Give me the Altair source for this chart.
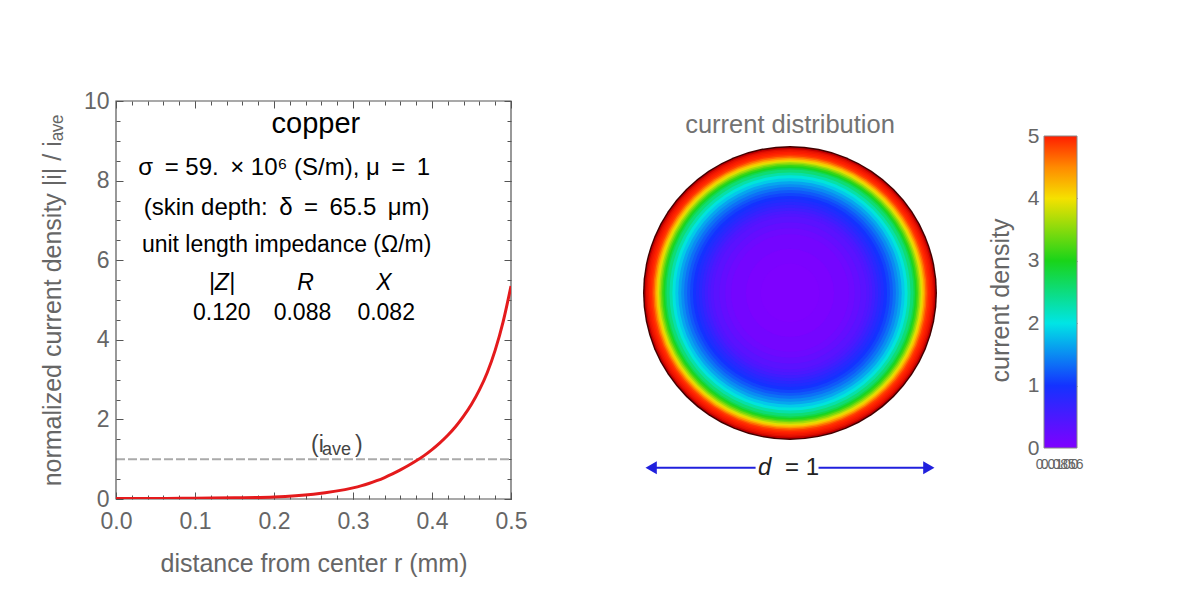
import altair as alt
import pandas as pd

FONT = "Liberation Sans"
GRAY = "#666666"
FRAME = "#555555"
RED = "#e41a1c"
BLUE = "#2020dd"
TS = "\u2009"

# ---------------- data ----------------
r_mm = [0.00, 0.05, 0.10, 0.15, 0.20, 0.25, 0.30, 0.31, 0.32, 0.33, 0.34, 0.35,
        0.36, 0.37, 0.38, 0.39, 0.40, 0.41, 0.42, 0.43, 0.44, 0.45, 0.46, 0.47,
        0.48, 0.49, 0.50]
density = [0.01, 0.01, 0.02, 0.03, 0.05, 0.12, 0.28, 0.33, 0.39, 0.46, 0.54, 0.63,
           0.73, 0.84, 0.96, 1.09, 1.24, 1.41, 1.60, 1.82, 2.08, 2.38, 2.74, 3.18,
           3.74, 4.45, 5.35]
avg_level = [1.0]

x_major = [0.0, 0.1, 0.2, 0.3, 0.4, 0.5]
x_minor = [0.0, 0.02, 0.04, 0.06, 0.08, 0.10, 0.12, 0.14, 0.16, 0.18, 0.20, 0.22,
           0.24, 0.26, 0.28, 0.30, 0.32, 0.34, 0.36, 0.38, 0.40, 0.42, 0.44, 0.46,
           0.48, 0.50]
y_major = [0, 2, 4, 6, 8, 10]
y_minor = [0, 0.5, 1, 1.5, 2, 2.5, 3, 3.5, 4, 4.5, 5, 5.5, 6, 6.5, 7, 7.5, 8, 8.5,
           9, 9.5, 10]

material = ["copper"]
info_lines = ["σ " + TS + "= 59. " + TS + "× 10⁶ (S/m), μ " + TS + "=" + TS + " 1",
              "(skin depth: " + TS + "δ " + TS + "=" + TS + " 65.5 " + TS + "μm)",
              "unit length impedance (Ω/m)"]
table_heads = ["|Z|", "R", "X"]
table_vals = ["0.120", "0.088", "0.082"]

# current distribution disk: radius (units of d) -> current density
ring_r = [0.500, 0.495, 0.490, 0.485, 0.480, 0.475, 0.470, 0.465, 0.460, 0.455,
          0.450, 0.445, 0.440, 0.435, 0.430, 0.425, 0.420, 0.410, 0.400, 0.390,
          0.380, 0.370, 0.360, 0.350, 0.340, 0.330, 0.320, 0.310, 0.300, 0.290,
          0.280, 0.270, 0.260, 0.240, 0.220, 0.200, 0.150, 0.100]
ring_j = [5.85, 5.40, 5.20, 5.10, 5.02, 4.95, 4.85, 4.65, 4.40, 4.15,
          3.90, 3.65, 3.40, 3.15, 2.95, 2.75, 2.55, 2.30, 2.05, 1.85,
          1.65, 1.50, 1.35, 1.22, 1.10, 1.00, 0.90, 0.80, 0.70, 0.60,
          0.50, 0.42, 0.35, 0.25, 0.17, 0.10, 0.04, 0.01]

cbar_ticks = [0, 1, 2, 3, 4, 5]
cmap_vals = [0, 1, 2, 3, 4, 4.5, 5, 5.4, 5.8, 6.0]
cmap_cols = ["#7f00ff", "#1432ff", "#00e5e5", "#19d419", "#f5e100", "#ff8a00",
             "#ff1e00", "#c00000", "#500000", "#1a0000"]

# ---------------- left panel ----------------
XS = alt.Scale(domain=[0, 0.5], nice=False, zero=False)
YS = alt.Scale(domain=[0, 10], nice=False, zero=False)


def ax(orient, values, size, main=False, title=None, lp=7, tp=14):
    kw = dict(orient=orient, values=values, tickSize=size, offset=-size, domain=False,
              grid=False, tickColor=FRAME, tickWidth=1, labels=main, title=title)
    if main:
        kw.update(labelFont=FONT, labelFontSize=23, labelColor=GRAY, labelPadding=lp,
                  labelFlush=False, titleFont=FONT, titleFontSize=25, titleColor=GRAY,
                  titleFontWeight="normal", titlePadding=tp)
    return alt.Axis(**kw)


curve_df = pd.DataFrame({"r": r_mm, "j": density})
base = alt.Chart(curve_df)

line = base.mark_line(color=RED, strokeWidth=3, clip=True, interpolate="monotone").encode(
    x=alt.X("r:Q", scale=XS,
            axis=ax("bottom", x_major, 7, True, "distance from center r (mm)", 11, 18)),
    y=alt.Y("j:Q", scale=YS,
            axis=ax("left", y_major, 7, True, "normalized current density |i| / iₐᵥₑ", 7, 18)),
)
t2 = base.mark_point(opacity=0).encode(
    x=alt.X("r:Q", scale=XS, axis=ax("bottom", x_minor, 4)),
    y=alt.Y("j:Q", scale=YS, axis=ax("left", y_minor, 4)),
)
t3 = base.mark_point(opacity=0).encode(
    x=alt.X("r:Q", scale=XS, axis=ax("top", x_major, 7)),
    y=alt.Y("j:Q", scale=YS, axis=ax("right", y_major, 7)),
)
t4 = base.mark_point(opacity=0).encode(
    x=alt.X("r:Q", scale=XS, axis=ax("top", x_minor, 4)),
    y=alt.Y("j:Q", scale=YS, axis=ax("right", y_minor, 4)),
)
frame = alt.Chart(pd.DataFrame({"a": [0.0], "b": [0.5], "c": [0.0], "d": [10.0]})).mark_rect(
    fillOpacity=0, stroke=FRAME, strokeWidth=1.2
).encode(
    x=alt.X("a:Q", scale=XS, axis=None), x2="b:Q",
    y=alt.Y("c:Q", scale=YS, axis=None), y2="d:Q",
)

avg = alt.Chart(pd.DataFrame({"x0": [0.0], "x1": [0.5], "lvl": avg_level})).mark_rule(
    color="#aaaaaa", strokeWidth=2, strokeDash=[9, 3]
).encode(
    x=alt.X("x0:Q", scale=XS, axis=None), x2="x1:Q",
    y=alt.Y("lvl:Q", scale=YS, axis=None),
)


def txt(df, size, color="black", style="normal", align="center", baseline="middle",
        xs=XS, ys=YS):
    return alt.Chart(df).mark_text(
        font=FONT, fontSize=size, color=color, fontStyle=style, align=align,
        baseline=baseline
    ).encode(
        x=alt.X("x:Q", scale=xs, axis=None),
        y=alt.Y("y:Q", scale=ys, axis=None),
        text="t:N",
    )


copper_t = txt(pd.DataFrame({"t": material, "x": [0.253], "y": [9.42]}), 29)
info_t = txt(pd.DataFrame({"t": info_lines[:2], "x": [0.213, 0.216],
                           "y": [8.32, 7.31]}), 24)
info_t2 = txt(pd.DataFrame({"t": info_lines[2:], "x": [0.216], "y": [6.38]}), 23)
head_t = txt(pd.DataFrame({"t": table_heads, "x": [0.134, 0.240, 0.339],
                           "y": [5.43, 5.43, 5.43]}), 23, style="italic")
val_t = txt(pd.DataFrame({"t": table_vals, "x": [0.134, 0.236, 0.342],
                          "y": [4.67, 4.67, 4.67]}), 23)
iave_a = txt(pd.DataFrame({"t": ["(i"], "x": [0.2468], "y": [1.18]}), 23, color="#444444",
             align="left", baseline="alphabetic")
iave_b = txt(pd.DataFrame({"t": ["ave"], "x": [0.2608], "y": [1.10]}), 18, color="#444444",
             align="left", baseline="alphabetic")
iave_c = txt(pd.DataFrame({"t": [")"], "x": [0.3025], "y": [1.18]}), 23, color="#444444",
             align="left", baseline="alphabetic")

left = alt.layer(
    avg, frame, t2, t3, t4, copper_t, info_t, info_t2, head_t, val_t,
    iave_a, iave_b, iave_c, line
).resolve_axis(x="independent", y="independent").properties(width=395, height=398)

# ---------------- circle panel ----------------
CX = alt.Scale(domain=[-0.51, 0.51], nice=False, zero=False)
CY = alt.Scale(domain=[-0.701, 0.653], nice=False, zero=False)
CR = alt.Scale(type="linear", domain=[0, 0.5], range=[0, 147], zero=True)
CC = alt.Scale(domain=cmap_vals, range=cmap_cols, interpolate="rgb")

ring_df = pd.DataFrame({"r": ring_r, "j": ring_j})
disks = alt.Chart(ring_df).mark_arc(theta=0, theta2=6.2832).encode(
    x=alt.XDatum(0, scale=CX, axis=None),
    y=alt.YDatum(0, scale=CY, axis=None),
    radius=alt.Radius("r:Q", scale=CR, stack=False),
    color=alt.Color("j:Q", scale=CC, legend=None),
)
ctitle = txt(pd.DataFrame({"t": ["current distribution"], "x": [0.0], "y": [0.571]}), 25.5,
             color="#727272", xs=CX, ys=CY)
seg = alt.Chart(pd.DataFrame({"a": [-0.47, 0.097], "b": [-0.117, 0.47],
                              "y": [-0.595, -0.595]})).mark_rule(
    color=BLUE, strokeWidth=2
).encode(
    x=alt.X("a:Q", scale=CX, axis=None), x2="b:Q",
    y=alt.Y("y:Q", scale=CY, axis=None),
)
heads = alt.Chart(pd.DataFrame({"x": [-0.472, 0.472], "y": [-0.595, -0.595],
                                "s": ["triangle-left", "triangle-right"]})).mark_point(
    filled=True, size=170, color=BLUE, opacity=1
).encode(
    x=alt.X("x:Q", scale=CX, axis=None),
    y=alt.Y("y:Q", scale=CY, axis=None),
    shape=alt.Shape("s:N", scale=None),
)
d_t = txt(pd.DataFrame({"t": ["d"], "x": [-0.063], "y": [-0.595]}), 24, color="#222222",
          style="italic", align="right", xs=CX, ys=CY)
eq_t = txt(pd.DataFrame({"t": ["= 1"], "x": [-0.017], "y": [-0.595]}), 24, color="#222222",
           align="left", xs=CX, ys=CY)

circle_panel = alt.layer(disks, ctitle, seg, heads, d_t, eq_t).properties(
    width=300, height=398
)

# ---------------- colorbar panel ----------------
CBY = alt.Scale(domain=[-0.817, 5.561], nice=False, zero=False)
CBX = alt.Scale(domain=[0, 1], nice=False, zero=False)
stops = [alt.GradientStop(offset=o, color=c)
         for o, c in zip([0, 0.2, 0.4, 0.6, 0.8, 0.9, 1.0], cmap_cols[:7])]
cb_df = pd.DataFrame({"lo": [0], "hi": [5]})
bar = alt.Chart(cb_df).mark_rect(
    fill=alt.Gradient(gradient="linear", stops=stops, x1=0, x2=0, y1=1, y2=0),
    stroke="#888888", strokeWidth=1
).encode(
    x=alt.XDatum(0, scale=CBX, axis=None), x2=alt.X2Datum(1),
    y=alt.Y("lo:Q", scale=CBY, axis=alt.Axis(
        orient="left", values=cbar_ticks, ticks=False, domain=False, grid=False,
        labelFont=FONT, labelFontSize=21, labelColor=GRAY, labelPadding=5,
        labelFlush=False, title="current density", titleFont=FONT, titleFontSize=25,
        titleColor=GRAY, titleFontWeight="normal", titlePadding=14)),
    y2="hi:Q",
)
rticks = alt.Chart(cb_df).mark_point(opacity=0).encode(
    x=alt.XDatum(0, scale=CBX, axis=None),
    y=alt.Y("lo:Q", scale=CBY, axis=alt.Axis(
        orient="right", values=[1, 2, 3, 4], tickSize=5, offset=-5, domain=False,
        labels=False, grid=False, tickColor="#777777", title=None)),
)
garb1 = txt(pd.DataFrame({"t": ["0.0100"], "x": [0.40], "y": [-0.272]}), 14, color=GRAY,
            xs=CBX, ys=CBY)
garb2 = txt(pd.DataFrame({"t": ["0.0856"], "x": [0.55], "y": [-0.272]}), 14, color=GRAY,
            xs=CBX, ys=CBY)

cb_panel = alt.layer(bar, rticks, garb1, garb2).resolve_axis(y="independent").properties(
    width=33, height=398
)

chart = alt.hconcat(
    left, alt.hconcat(circle_panel, cb_panel, spacing=48), spacing=113
).properties(
    padding={"left": 32, "top": 82, "right": 5, "bottom": 5}
).configure_view(strokeWidth=0)

chart.save("out.html", embed_options={"renderer": "svg", "actions": False})
